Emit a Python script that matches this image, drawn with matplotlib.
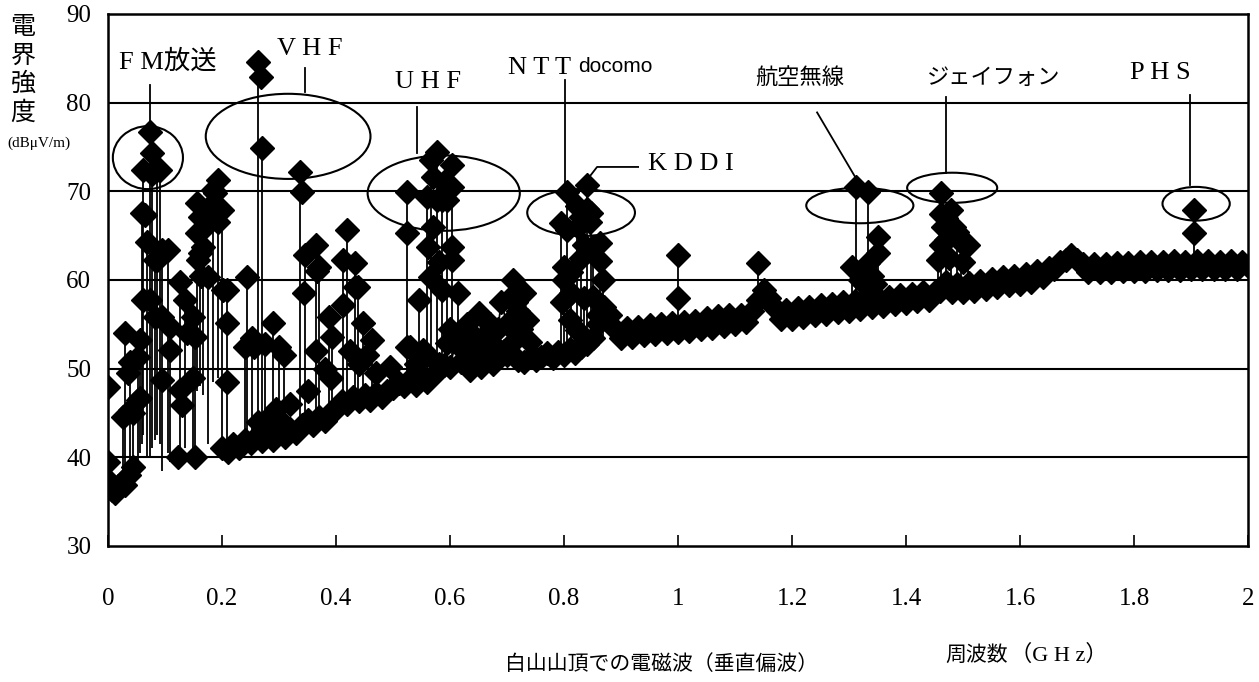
import numpy as np
import matplotlib
matplotlib.use("Agg")
import matplotlib.pyplot as plt
from matplotlib.patches import Ellipse

# Field strength spectrum on the summit of Hakusan (vertical polarisation)
# frequency in GHz, level in dBuV/m

start_f = [0.000, 0.004, 0.007, 0.012, 0.018, 0.025, 0.030, 0.037, 0.044]
start_v = [37.5, 36.5, 36.3, 36.0, 36.8, 37.2, 36.9, 38.0, 38.9]

# swept noise floor, 0.20 .. 2.00 GHz in 10 MHz steps
base_f = np.round(np.arange(0.20, 2.0001, 0.01), 2)
base_v = [
    41.0, 40.6, 41.5, 41.0, 42.0, 41.6, 42.3, 41.8, 42.6, 42.0,
    42.8, 42.3, 43.2, 42.8, 43.6, 44.2, 43.7, 44.6, 44.1, 45.0,
    45.5, 46.4, 46.0, 46.8, 46.3, 47.0, 46.5, 47.2, 46.8, 47.5,
    47.8, 48.4, 48.0, 48.8, 48.2, 49.0, 48.5, 49.3, 49.8, 50.4,
    50.2, 53.0, 50.8, 55.0, 51.0, 56.3, 51.5, 55.0, 52.5, 57.5,
    55.0, 60.0, 56.5, 58.5, 53.0, 51.0, 51.3, 51.8, 51.2, 51.9,
    51.5, 52.2, 51.8, 52.5, 52.8, 53.5, 55.0, 56.5, 56.0, 54.5,
    53.5, 54.6, 53.6, 54.7, 53.8, 54.9, 53.9, 55.0, 54.0, 55.1,
    54.1, 55.3, 54.3, 55.4, 54.5, 55.7, 54.6, 55.9, 54.8, 56.0,
    55.0, 56.1, 55.3, 56.5, 57.8, 58.9, 58.0, 56.8, 55.6, 56.6,
    55.6, 56.8, 55.8, 57.0, 56.0, 57.2, 56.2, 57.3, 56.4, 57.5,
    56.5, 57.6, 56.7, 57.8, 56.9, 58.0, 57.1, 58.1, 57.3, 58.3,
    57.4, 58.4, 57.6, 58.6, 57.7, 58.6, 58.8, 59.8, 58.6, 59.6,
    58.6, 59.7, 58.8, 59.9, 59.0, 60.1, 59.2, 60.3, 59.4, 60.5,
    59.6, 60.7, 59.8, 61.0, 60.3, 61.3, 61.2, 62.0, 62.2, 62.8,
    62.3, 61.8, 60.9, 61.8, 60.9, 61.8, 60.9, 61.9, 61.0, 61.9,
    61.0, 62.0, 61.0, 62.0, 61.1, 62.0, 61.1, 62.1, 61.1, 62.0,
    61.2, 62.1, 61.2, 62.1, 61.2, 62.0, 61.2, 62.1, 61.2, 62.0,
    61.6,
]

# signal spikes: frequency, peak level, foot of the spike
spike_f = [0.000, 0.026, 0.030, 0.039, 0.044, 0.053, 0.056, 0.060, 0.061, 0.068,
           0.074, 0.077, 0.082, 0.086, 0.091, 0.095, 0.105, 0.109, 0.126, 0.135,
           0.149, 0.153, 0.156, 0.161, 0.166, 0.175, 0.184, 0.193, 0.200, 0.209,
           0.244,
           0.240, 0.252, 0.263, 0.270, 0.275, 0.290, 0.300, 0.309, 0.337, 0.345,
           0.365, 0.370, 0.387, 0.393, 0.412, 0.420, 0.433, 0.438, 0.447, 0.463,
           0.495,
           0.524, 0.530, 0.545, 0.560, 0.566, 0.577, 0.586, 0.595, 0.603, 0.614,
           0.794, 0.800, 0.805, 0.812, 0.823, 0.830, 0.835, 0.840, 0.847, 0.851,
           0.864, 0.868,
           1.000, 1.141,
           1.305, 1.312, 1.320, 1.326, 1.333, 1.340, 1.345, 1.351,
           1.456, 1.461, 1.470, 1.479, 1.490, 1.496, 1.509,
           1.905]
spike_top = [47.9, 44.6, 54.0, 50.8, 45.0, 51.3, 53.2, 67.6, 72.4, 64.3,
             76.7, 74.3, 62.3, 72.4, 72.4, 63.4, 63.4, 54.7, 59.8, 57.7,
             55.8, 53.6, 68.7, 67.1, 63.7, 60.3, 70.2, 71.3, 67.9, 58.9,
             60.3,
             52.5, 53.5, 84.6, 74.9, 52.8, 55.2, 52.5, 51.5, 72.2, 62.8,
             63.9, 61.5, 55.8, 53.6, 62.3, 65.6, 61.9, 59.2, 55.1, 53.2,
             50.2,
             69.9, 52.5, 57.7, 69.4, 73.5, 74.4, 69.0, 69.0, 73.0, 58.5,
             66.4, 61.5, 69.9, 60.9, 68.3, 67.1, 58.0, 70.7, 67.6, 63.7,
             64.2, 60.0,
             62.8, 61.9,
             61.5, 70.5, 60.0, 59.5, 69.9, 60.5, 59.5, 64.9,
             62.3, 69.8, 67.0, 67.9, 65.4, 64.3, 63.9,
             67.9]
spike_bot = [36.5, 37.0, 37.5, 38.0, 38.5, 39.0, 40.5, 41.5, 42.5, 40.0,
             40.0, 41.0, 42.0, 42.5, 41.5, 38.5, 40.5, 39.5, 40.0, 41.0,
             40.5, 40.0, 47.5, 48.0, 47.0, 41.5, 48.5, 49.0, 41.0, 41.0,
             41.5,
             41.5, 41.5, 41.5, 41.5, 42.0, 42.0, 42.5, 42.5, 43.0, 43.5,
             44.0, 44.5, 45.0, 45.0, 46.0, 46.0, 46.5, 46.5, 46.5, 47.0,
             47.5,
             48.0, 48.0, 48.5, 48.5, 48.5, 49.0, 49.0, 49.5, 50.0, 50.0,
             51.5, 51.5, 51.5, 51.8, 52.0, 52.0, 52.0, 52.5, 52.5, 52.5,
             53.0, 53.5,
             54.5, 57.5,
             56.8, 56.8, 57.0, 57.0, 57.0, 57.2, 57.2, 57.3,
             58.3, 58.3, 59.0, 59.0, 59.0, 59.0, 59.0,
             61.5]

# further readings lying along the spikes
extra_f = [0.000, 0.035, 0.039, 0.053, 0.056, 0.061, 0.065, 0.074, 0.077, 0.082,
           0.086, 0.095, 0.095, 0.109, 0.123, 0.126, 0.130, 0.139, 0.149, 0.153,
           0.156, 0.158, 0.161, 0.163, 0.170, 0.180, 0.188, 0.193, 0.202, 0.209,
           0.209,
           0.268, 0.340, 0.257, 0.263, 0.283, 0.295, 0.305, 0.367, 0.343, 0.412,
           0.433, 0.365, 0.380, 0.392, 0.425, 0.440, 0.455, 0.470, 0.350, 0.320,
           0.524, 0.570, 0.603, 0.562, 0.603, 0.603, 0.565, 0.586, 0.524, 0.552,
           0.594, 0.617, 0.577, 0.590, 0.570, 0.580, 0.540, 0.560, 0.580, 0.600,
           0.615, 0.625, 0.635, 0.645, 0.655, 0.665, 0.675, 0.685, 0.695, 0.705,
           0.715, 0.725, 0.735, 0.745, 0.700, 0.720, 0.730, 0.710,
           0.805, 0.812, 0.823, 0.820, 0.864, 0.851, 0.830, 0.835, 0.800, 0.840,
           0.845, 0.825, 0.870, 0.875, 0.860, 0.797, 0.810,
           1.000, 1.333, 1.351,
           1.461, 1.465, 1.470, 1.484, 1.461, 1.475, 1.500,
           1.905]
extra_v = [39.5, 49.5, 45.3, 46.5, 46.7, 57.7, 67.3, 57.7, 72.0, 55.8,
           62.3, 48.7, 55.8, 52.1, 40.0, 47.6, 45.9, 54.0, 49.0, 40.0,
           65.3, 62.3, 63.0, 60.5, 66.0, 68.5, 69.8, 66.5, 58.9, 55.2,
           48.5,
           82.9, 69.9, 52.5, 44.0, 44.5, 45.5, 44.0, 61.0, 58.5, 57.2,
           59.2, 52.0, 50.0, 49.0, 52.0, 50.5, 51.5, 49.5, 47.5, 46.0,
           65.3, 71.6, 70.5, 63.7, 63.7, 62.3, 60.3, 58.9, 52.4, 52.1,
           52.9, 53.6, 69.0, 71.0, 66.0, 62.0, 50.5, 51.5, 50.5, 54.5,
           53.5, 52.0, 49.8, 53.5, 50.2, 54.0, 50.5, 54.5, 52.0, 58.0,
           57.5, 54.5, 55.5, 51.5, 51.5, 51.0, 50.7, 53.0,
           65.6, 58.5, 54.4, 52.1, 62.1, 58.1, 62.5, 64.0, 60.0, 68.0,
           66.5, 66.0, 57.0, 56.0, 56.0, 57.5, 55.5,
           58.0, 61.9, 63.0,
           67.5, 66.0, 64.5, 66.0, 64.0, 62.5, 62.0,
           65.3]

x_ticks = [0, 0.2, 0.4, 0.6, 0.8, 1.0, 1.2, 1.4, 1.6, 1.8, 2.0]
x_labels = ["0", "0.2", "0.4", "0.6", "0.8", "1", "1.2", "1.4", "1.6", "1.8", "2"]
y_ticks = [30, 40, 50, 60, 70, 80, 90]

serif = ["Liberation Serif", "Noto Sans CJK JP"]
jp = ["Noto Sans CJK JP", "DejaVu Sans"]
MS = 12.5

W, H = 1259, 682
fig = plt.figure(figsize=(W / 100, H / 100), dpi=100)
ax = fig.add_axes([108 / W, 1 - 546 / H, 1140 / W, 532 / H])
ax.set_xlim(0, 2)
ax.set_ylim(30, 90)

for y in y_ticks[1:-1]:
    ax.axhline(y, color="black", lw=1.5, zorder=1)

ax.vlines(spike_f, spike_bot, spike_top, color="black", lw=1.3, zorder=2)
ax.plot(start_f, start_v, color="black", lw=1.3, marker="D", ms=MS, zorder=3)
ax.plot(base_f, base_v, color="black", lw=1.3, marker="D", ms=MS, zorder=3)
ax.plot(spike_f, spike_top, ls="none", color="black", marker="D", ms=MS, zorder=4)
ax.plot(extra_f, extra_v, ls="none", color="black", marker="D", ms=MS, zorder=4)

# circled groups
ellipses = [(0.070, 73.8, 0.123, 7.1), (0.316, 76.2, 0.289, 9.6),
            (0.589, 69.8, 0.267, 8.5), (0.830, 67.6, 0.189, 5.3),
            (1.319, 68.4, 0.188, 4.0), (1.481, 70.4, 0.158, 3.4),
            (1.909, 68.6, 0.118, 3.8)]
for cx, cy, w, h in ellipses:
    ax.add_patch(Ellipse((cx, cy), w, h, fill=False, ec="black", lw=1.5, zorder=5))

leaders = [([0.074, 0.074], [82.0, 77.1]), ([0.346, 0.346], [83.9, 81.2]),
           ([0.542, 0.542], [79.5, 74.3]), ([0.802, 0.802], [82.6, 70.2]),
           ([0.837, 0.858, 0.930], [71.0, 72.75, 72.75]),
           ([1.244, 1.311], [78.9, 71.6]), ([1.470, 1.470], [80.6, 72.1]),
           ([1.898, 1.898], [80.9, 70.7])]
for lx, ly in leaders:
    ax.plot(lx, ly, color="black", lw=1.3, zorder=5)

ax.text(0.105, 84.7, "F M放送", family=serif, fontsize=19, ha="center", va="center")
ax.text(0.354, 86.0, "V H F", family=serif, fontsize=19, ha="center", va="center")
ax.text(0.561, 82.3, "U H F", family=serif, fontsize=19, ha="center", va="center")
ax.text(0.702, 83.9, "N T T", family=serif, fontsize=19, ha="left", va="center")
ax.text(0.825, 84.1, "docomo", family="Liberation Sans", fontsize=15, ha="left", va="center")
ax.text(0.947, 73.1, "K D D I", family=serif, fontsize=19, ha="left", va="center")
ax.text(1.214, 82.8, "航空無線", family=jp, fontsize=16, ha="center", va="center")
ax.text(1.554, 82.8, "ジェイフォン", family=jp, fontsize=16, ha="center", va="center")
ax.text(1.846, 83.3, "P H S", family=serif, fontsize=19, ha="center", va="center")

for side in ["top", "bottom", "left", "right"]:
    ax.spines[side].set_linewidth(1.8)

ax.set_xticks(x_ticks)
ax.set_xticklabels(x_labels, family="Liberation Serif", fontsize=18)
ax.set_yticks(y_ticks)
ax.set_yticklabels([str(v) for v in y_ticks], family="Liberation Serif", fontsize=18)
ax.tick_params(axis="x", direction="in", length=8, width=1.2, pad=30)
ax.tick_params(axis="y", length=0, pad=12)

fig.text(23 / W, 1 - 70 / H, "電\n界\n強\n度", family=jp, fontsize=18,
         ha="center", va="center", linespacing=1.12)
fig.text(39 / W, 1 - 143 / H, "(dBμV/m)", family="Liberation Serif", fontsize=11,
         ha="center", va="center")
fig.text(662 / W, 1 - 664 / H, "白山山頂での電磁波（垂直偏波）", family=jp, fontsize=15,
         ha="center", va="center")
fig.text(945 / W, 1 - 655 / H, "周波数", family=jp, fontsize=15, ha="left", va="center")
fig.text(1010 / W, 1 - 655 / H, "（G H z）", family=serif, fontsize=16,
         ha="left", va="center")

fig.savefig("out.png", dpi=100)
